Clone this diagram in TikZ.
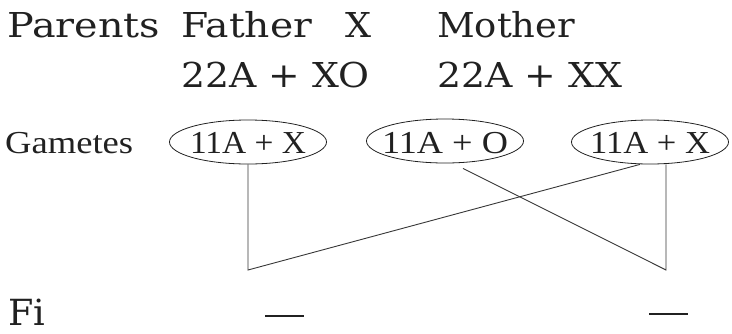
\documentclass[tikz,border=0pt]{standalone}
\usepackage{fontspec}
\usepackage{graphicx}
\setmainfont{DejaVu Serif}
\newfontfamily\gamfont{Liberation Serif}
\usetikzlibrary{shapes.geometric}
\newlength\fitlen
\newcommand\fitw[2]{\settowidth{\fitlen}{#2}\pgfmathsetmacro\fitfac{#1/\fitlen}\scalebox{\fitfac}[1]{#2}}
\definecolor{ink}{gray}{0.13}
\tikzset{
  bigtxt/.style={anchor=base west, inner sep=0pt, text=ink, font=\fontsize{34.3}{40}\selectfont},
  gtxt/.style={inner sep=0pt, text=ink, font=\gamfont\fontsize{32}{38}\selectfont},
  gamete/.style={ellipse, draw=ink, line width=0.8pt, minimum width=157pt, minimum height=44pt, inner sep=0pt},
  cross/.style={draw=ink!90, line width=0.9pt},
  blank/.style={draw=ink, line width=1.8pt}
}
\begin{document}
\begin{tikzpicture}[x=1pt,y=-1pt]
\useasboundingbox (0,0) rectangle (732,333);
% parents
\node[bigtxt] (parents) at (7,37) {\fitw{153}{Parents}};
\node[bigtxt] (father) at (181,37) {\fitw{131}{Father}};
\node[bigtxt] (fx) at (345,37) {\fitw{26}{X}};
\node[bigtxt] (mother) at (437,37) {\fitw{138}{Mother}};
\node[bigtxt] (fgen) at (181,87) {\fitw{188}{22A + XO}};
\node[bigtxt] (mgen) at (437,87) {\fitw{185}{22A + XX}};
% gametes
\node[gtxt, anchor=base west] (gam) at (5,153) {\fitw{128}{Gametes}};
\node[gamete] (g1) at (248,142) {};
\node[gamete] (g2) at (445,141) {};
\node[gamete] (g3) at (650,142) {};
\node[gtxt, anchor=base] (t1) at (248,153) {\fitw{116}{11A + X}};
\node[gtxt, anchor=base] (t2) at (445,153) {\fitw{126}{11A + O}};
\node[gtxt, anchor=base] (t3) at (650,153) {\fitw{120}{11A + X}};
% crossing connectors
\coordinate (bl) at (248,270);
\coordinate (br) at (666,270);
\draw[cross] (g1.south) -- (bl) -- ([shift={(-10,0)}]g3.south);
\draw[cross] ([shift={(18,5)}]g2.south) -- (br) -- ([shift={(16,0)}]g3.south);
% F1
\node[bigtxt, font=\fontsize{36}{42}\selectfont] (fi) at (8,325) {\fitw{37}{Fi}};
\coordinate (d1a) at (265,316); \coordinate (d1b) at (304,316);
\coordinate (d2a) at (649,314); \coordinate (d2b) at (688,314);
\draw[blank] (d1a) -- (d1b);
\draw[blank] (d2a) -- (d2b);
\end{tikzpicture}
\end{document}
